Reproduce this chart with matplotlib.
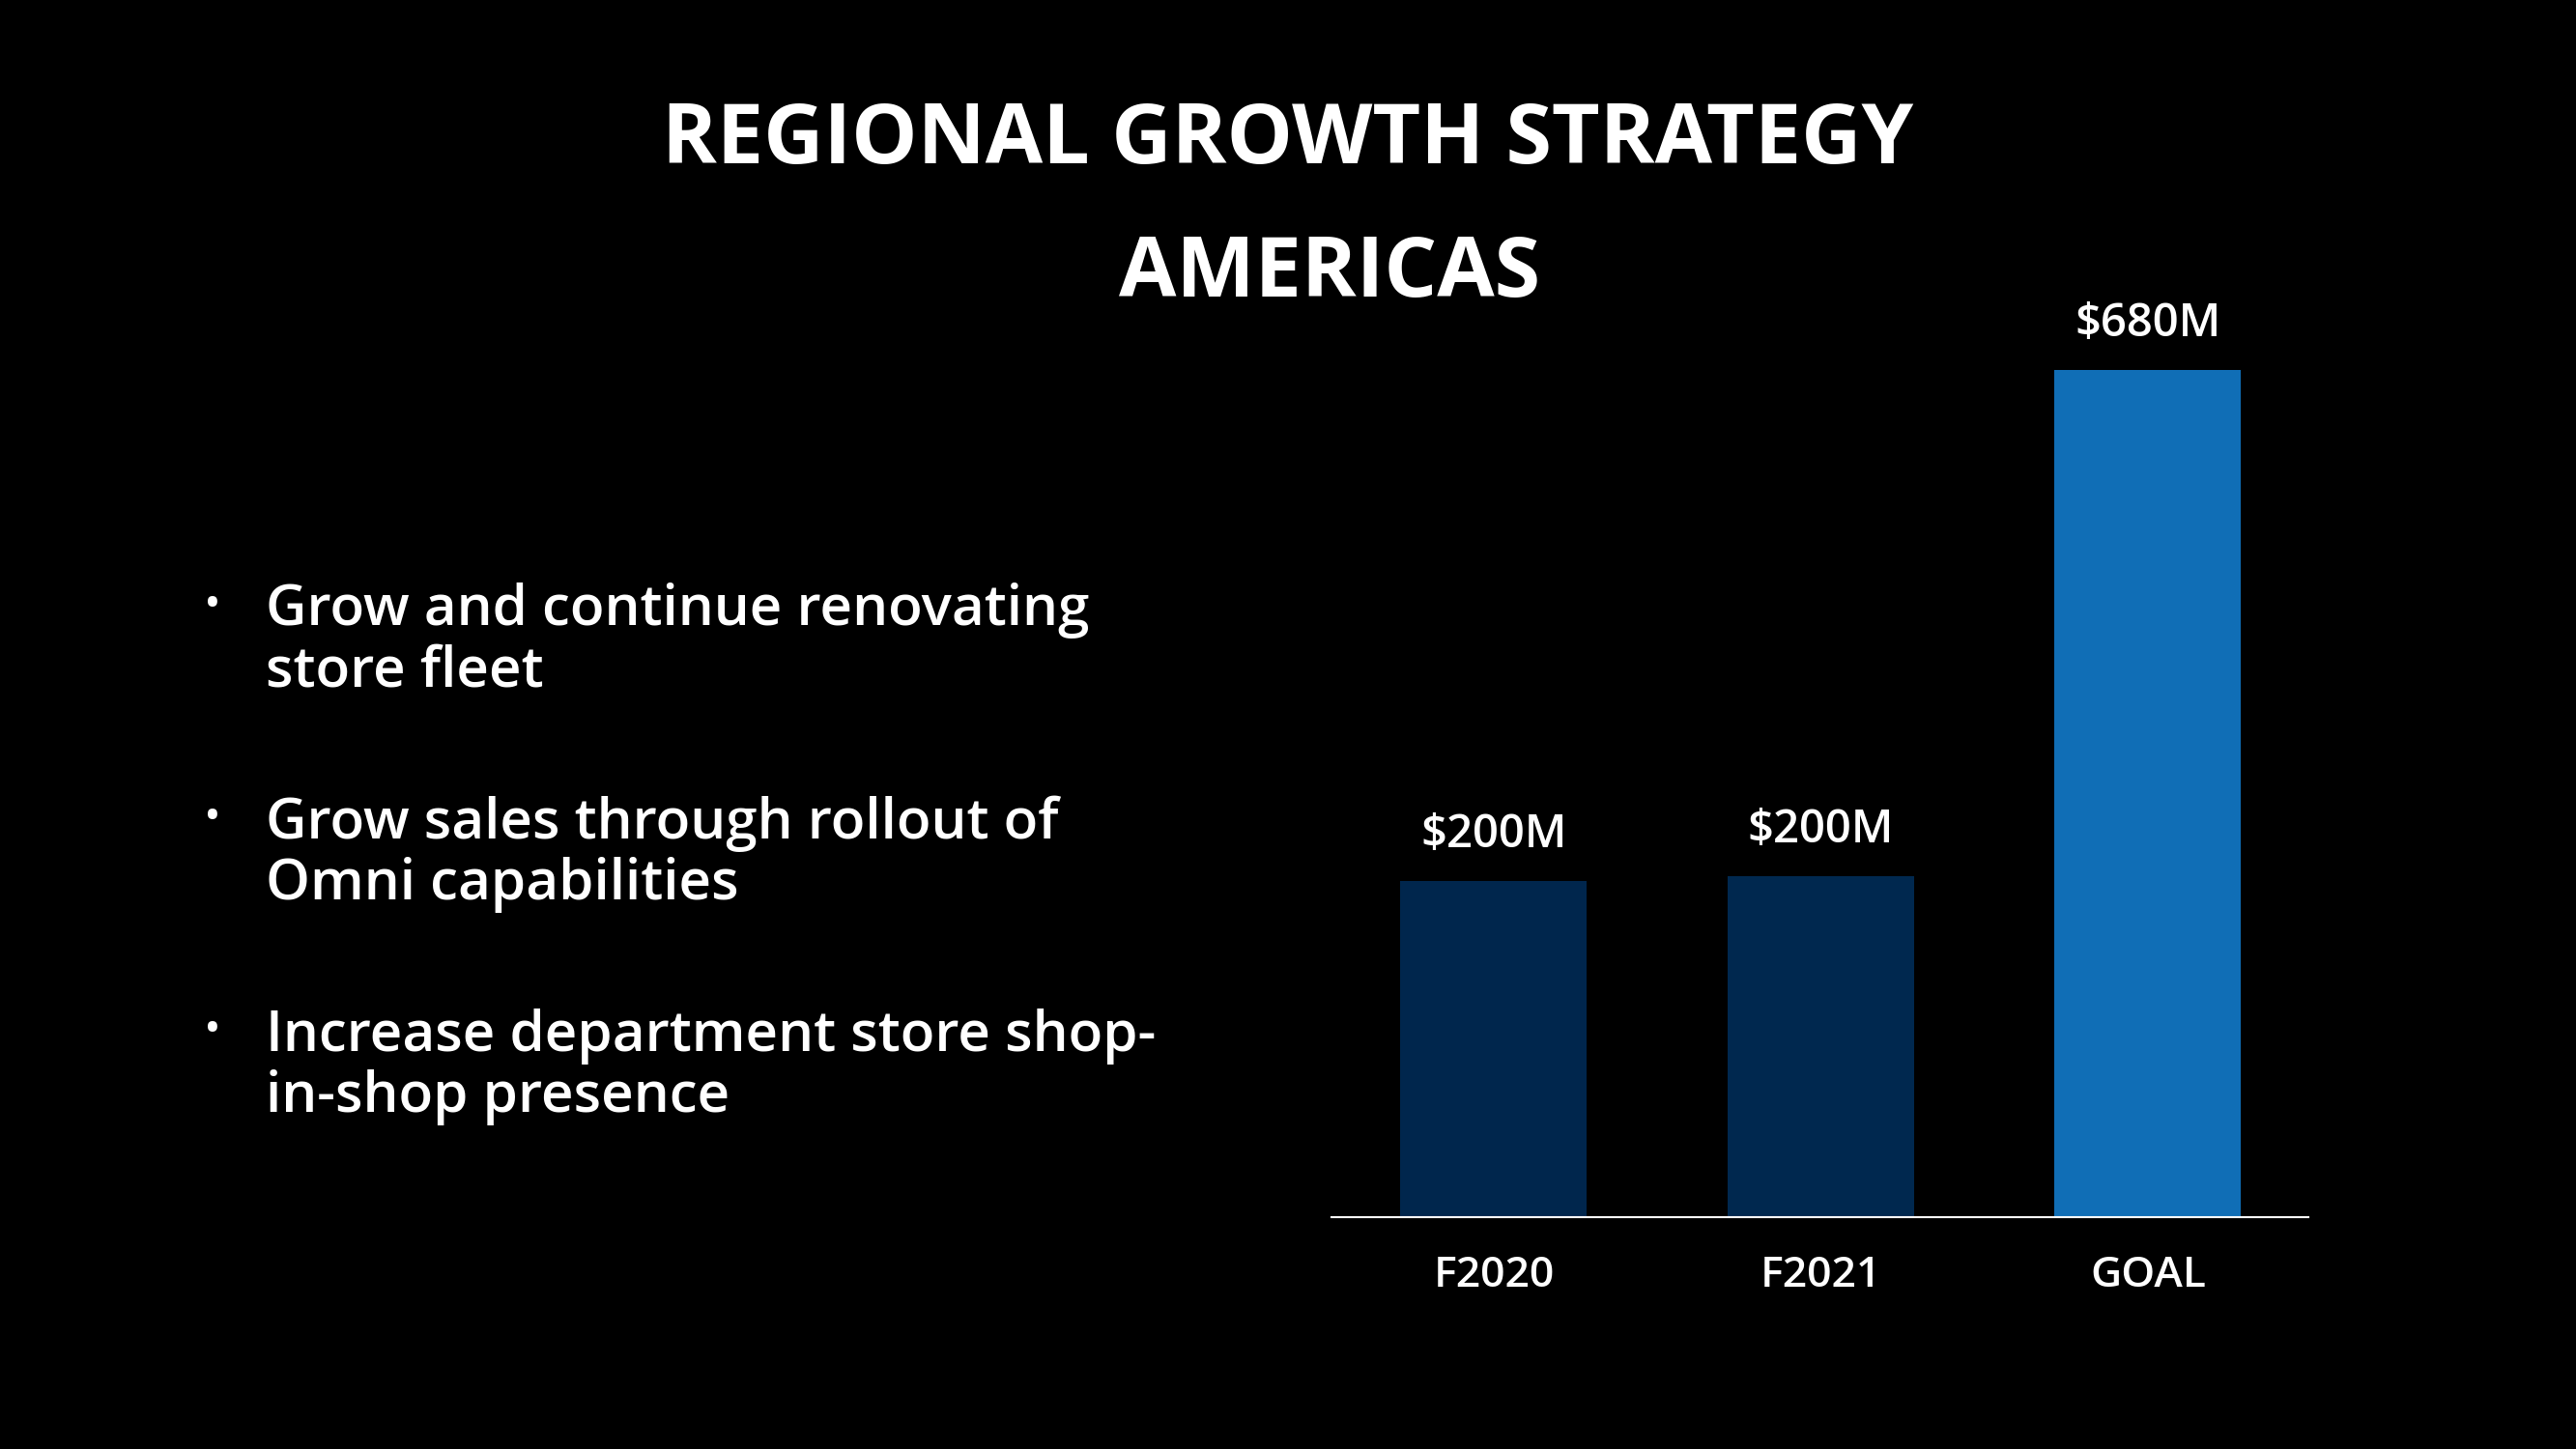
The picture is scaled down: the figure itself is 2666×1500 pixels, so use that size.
import matplotlib
matplotlib.use("Agg")
import matplotlib.pyplot as plt

categories = ["F2020", "F2021", "GOAL"]
bar_heights = [270, 274, 680]
value_labels = ["$200M", "$200M", "$680M"]
bar_colors = ["#00264D", "#00284F", "#106EB6"]
bullets = [
    "Grow and continue renovating\nstore fleet",
    "Grow sales through rollout of\nOmni capabilities",
    "Increase department store shop-\nin-shop presence",
]

plt.rcParams["font.family"] = ["Open Sans", "DejaVu Sans"]

fig = plt.figure(figsize=(26.66, 15), dpi=100, facecolor="black")

fig.text(0.5, 0.902, "REGIONAL GROWTH STRATEGY", color="white", fontsize=62,
         fontweight="bold", ha="center", va="center")
fig.text(0.516, 0.81, "AMERICAS", color="white", fontsize=62,
         fontweight="bold", ha="center", va="center")

for i, b in enumerate(bullets):
    y = 0.598 - i * 0.147
    fig.text(0.079, y, "•", color="white", fontsize=34, ha="left", va="top")
    fig.text(0.103, y, b, color="white", fontsize=42, fontweight="semibold",
             ha="left", va="top", linespacing=1.12)

ax = fig.add_axes([0.517, 0.160, 0.379, 0.67])
ax.set_facecolor("black")
x = range(len(categories))
bars = ax.bar(x, bar_heights, width=0.57, color=bar_colors)
for bar, lab in zip(bars, value_labels):
    ax.text(bar.get_x() + bar.get_width() / 2, bar.get_height() + 18, lab,
            color="white", fontsize=34, fontweight="semibold", ha="center", va="bottom")
ax.set_xlim(-0.495, 2.49)
ax.set_ylim(0, 779)
ax.set_xticks(list(x))
ax.set_xticklabels(categories, color="white", fontsize=32, fontweight="semibold")
ax.tick_params(axis="x", length=0, pad=28)
ax.set_yticks([])
for s in ["top", "right", "left"]:
    ax.spines[s].set_visible(False)
ax.spines["bottom"].set_color("white")
ax.spines["bottom"].set_linewidth(1.5)

fig.savefig("out.png", dpi=100, facecolor="black")
